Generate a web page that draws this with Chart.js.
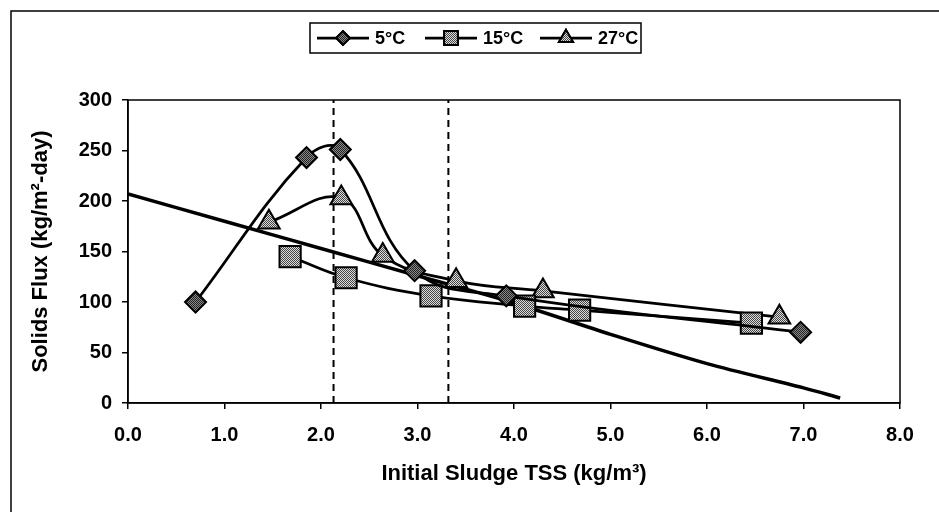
<!DOCTYPE html>
<html>
<head>
<meta charset="utf-8">
<script src="https://cdn.jsdelivr.net/npm/chart.js@4"></script>
<style>
    html, body { margin: 0; padding: 0; background: #fff; }
    #wrap { width: 939px; height: 512px; position: relative; }
</style>
</head>
<body>
<div id="wrap"><canvas id="fluxChart" width="939" height="512"></canvas></div>
<script>
// values
const seriesLabels = ['5°C', '15°C', '27°C'];
const temp5X = [0.70, 1.85, 2.20, 2.97, 3.92, 6.97];
const temp5Y = [100, 243, 251, 131, 106, 70];
const temp15X = [1.68, 2.26, 3.14, 4.11, 4.68, 6.46];
const temp15Y = [145, 124, 106, 96, 92, 79];
const temp27X = [1.46, 2.21, 2.64, 3.40, 4.30, 6.75];
const temp27Y = [179, 203, 146, 121, 111, 85];
const fluxLineX = [0, 1, 2, 3, 4, 5, 6, 7, 7.38];
const fluxLineY = [207, 180, 153, 126, 99, 68, 39, 15, 5];
const dashedX = [2.13, 3.32];
const xTickValues = [0, 1, 2, 3, 4, 5, 6, 7, 8];
const yTickValues = [0, 50, 100, 150, 200, 250, 300];

const FONT = 'Arial, "Liberation Sans", sans-serif';

function toPoints(xs, ys) {
    return xs.map((x, i) => ({ x: x, y: ys[i] }));
}

const canvas = document.getElementById('fluxChart');
const ctx = canvas.getContext('2d');

// stippled grey fill like the printed markers
function makePattern(dark, light) {
    const c = document.createElement('canvas');
    c.width = 2;
    c.height = 2;
    const g = c.getContext('2d');
    g.fillStyle = light;
    g.fillRect(0, 0, 2, 2);
    g.fillStyle = dark;
    g.fillRect(0, 0, 1, 1);
    g.fillRect(1, 1, 1, 1);
    return ctx.createPattern(c, 'repeat');
}
const darkFill = makePattern('#222', '#888');
const greyFill = makePattern('#444', '#ddd');

const markerStyles = [
    { pointStyle: 'rectRot', radius: 10.5, fill: darkFill },
    { pointStyle: 'rect', radius: 15, fill: greyFill },
    { pointStyle: 'triangle', radius: 12.5, fill: greyFill }
];

function seriesDataset(i, xs, ys) {
    const m = markerStyles[i];
    return {
        label: seriesLabels[i],
        data: toPoints(xs, ys),
        borderColor: '#000',
        borderWidth: 2.75,
        tension: 0.4,
        pointStyle: m.pointStyle,
        pointRadius: m.radius,
        pointHoverRadius: m.radius,
        pointBackgroundColor: m.fill,
        pointBorderColor: '#000',
        pointBorderWidth: 2
    };
}

const datasets = [
    seriesDataset(0, temp5X, temp5Y),
    seriesDataset(1, temp15X, temp15Y),
    seriesDataset(2, temp27X, temp27Y),
    {
        label: 'flux line',
        data: toPoints(fluxLineX, fluxLineY),
        borderColor: '#000',
        borderWidth: 3.5,
        tension: 0.3,
        pointRadius: 0
    }
];
dashedX.forEach(x => {
    datasets.push({
        label: 'limit',
        data: [{ x: x, y: yTickValues[0] }, { x: x, y: yTickValues[yTickValues.length - 1] }],
        borderColor: '#000',
        borderWidth: 2,
        borderDash: [7, 5],
        pointRadius: 0,
        tension: 0
    });
});

// frame, plot box and the boxed legend
const decorPlugin = {
    id: 'decor',
    beforeDraw(chart) {
        const c = chart.ctx;
        c.save();
        c.strokeStyle = '#000';
        c.lineWidth = 1.5;
        c.beginPath();
        c.moveTo(11, 512);
        c.lineTo(11, 11);
        c.lineTo(939, 11);
        c.stroke();
        c.restore();
    },
    afterDraw(chart) {
        const c = chart.ctx;
        const a = chart.chartArea;
        c.save();
        c.strokeStyle = '#000';
        c.lineWidth = 1.5;
        c.strokeRect(a.left, a.top, a.right - a.left, a.bottom - a.top);

        // legend
        const box = { left: 310, top: 23, right: 641, bottom: 53 };
        c.lineWidth = 1.5;
        c.strokeRect(box.left, box.top, box.right - box.left, box.bottom - box.top);
        const cy = (box.top + box.bottom) / 2;
        const starts = [317, 425, 540];
        c.font = 'bold 18px ' + FONT;
        c.textBaseline = 'middle';
        c.fillStyle = '#000';
        starts.forEach((sx, i) => {
            const len = 52;
            c.lineWidth = 2.75;
            c.beginPath();
            c.moveTo(sx, cy);
            c.lineTo(sx + len, cy);
            c.stroke();
            const m = markerStyles[i];
            c.fillStyle = m.fill;
            c.lineWidth = 2;
            Chart.helpers.drawPoint(c, { pointStyle: m.pointStyle, radius: m.radius * 0.65, rotation: 0, borderWidth: 2 }, sx + len / 2, cy);
            c.fill();
            c.stroke();
            c.fillStyle = '#000';
            c.fillText(seriesLabels[i], sx + len + 6, cy + 1);
        });
        c.restore();
    }
};

new Chart(ctx, {
    type: 'line',
    data: { datasets: datasets },
    options: {
        responsive: false,
        animation: false,
        layout: { padding: { left: 0, right: 39, top: 100, bottom: 0 } },
        plugins: {
            legend: { display: false },
            tooltip: { enabled: false }
        },
        scales: {
            x: {
                type: 'linear',
                min: xTickValues[0],
                max: xTickValues[xTickValues.length - 1],
                afterBuildTicks: (scale) => { scale.ticks = xTickValues.map(v => ({ value: v })); },
                afterFit: (scale) => { scale.height = 109; },
                grid: { drawOnChartArea: false, drawTicks: true, tickLength: 6, color: '#000', lineWidth: 1.5 },
                border: { color: '#000', width: 1.5 },
                ticks: {
                    padding: 14,
                    color: '#000',
                    font: { family: FONT, size: 20, weight: 'bold' },
                    callback: (v) => Number(v).toFixed(1)
                },
                title: {
                    display: true,
                    text: 'Initial Sludge TSS (kg/m³)',
                    color: '#000',
                    font: { family: FONT, size: 22, weight: 'bold' },
                    padding: { top: 0, bottom: 25 }
                }
            },
            y: {
                min: yTickValues[0],
                max: yTickValues[yTickValues.length - 1],
                afterBuildTicks: (scale) => { scale.ticks = yTickValues.map(v => ({ value: v })); },
                afterFit: (scale) => { scale.width = 128; },
                grid: { drawOnChartArea: false, drawTicks: true, tickLength: 6, color: '#000', lineWidth: 1.5 },
                border: { color: '#000', width: 1.5 },
                ticks: {
                    padding: 10,
                    color: '#000',
                    font: { family: FONT, size: 20, weight: 'bold' }
                },
                title: {
                    display: true,
                    text: 'Solids Flux (kg/m²-day)',
                    color: '#000',
                    font: { family: FONT, size: 22, weight: 'bold' },
                    padding: { top: 28, bottom: 0 }
                }
            }
        }
    },
    plugins: [decorPlugin]
});
</script>
</body>
</html>
